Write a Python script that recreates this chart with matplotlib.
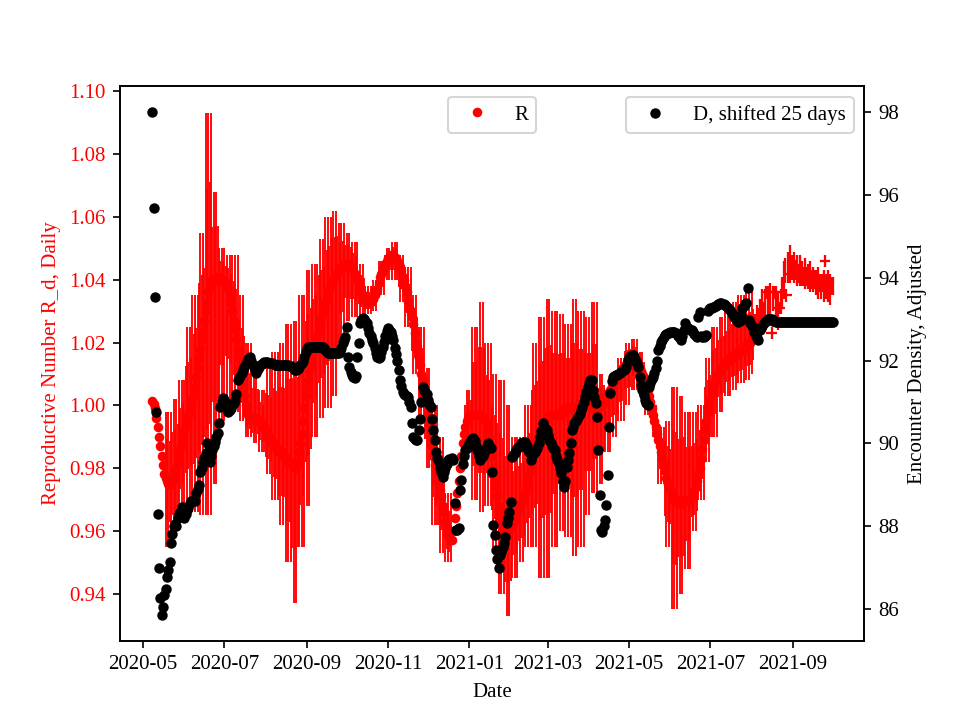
import datetime as dt
import numpy as np
import matplotlib
matplotlib.use("Agg")
import matplotlib.pyplot as plt
import matplotlib.dates as mdates

plt.rcParams['font.family'] = ['Liberation Serif', 'DejaVu Serif']

start_date = dt.date(2020, 5, 8)

# Daily reproductive number (centre values), 2020-05-08 .. 2021-08-02
R_main = [
    1.0015, 1.0005, 0.999, 0.996, 0.993, 0.990, 0.987, 0.984, 0.981, 0.978,
    0.977, 0.976, 0.975, 0.975, 0.975, 0.976, 0.977, 0.978, 0.980, 0.982,
    0.984, 0.986, 0.988, 0.990, 0.992, 0.994, 0.995, 0.997, 0.998, 1.000,
    1.002, 1.004, 1.006, 1.009, 1.012, 1.015, 1.018, 1.021, 1.024, 1.027,
    1.030, 1.033, 1.036, 1.038, 1.039, 1.040, 1.040, 1.040, 1.040, 1.041,
    1.041, 1.040, 1.040, 1.040, 1.039, 1.039, 1.038, 1.037, 1.035, 1.033,
    1.030, 1.027, 1.024, 1.021, 1.018, 1.015, 1.012, 1.009, 1.006, 1.003,
    1.000, 0.998, 0.997, 0.996, 0.996, 0.996, 0.996, 0.996, 0.995, 0.995,
    0.995, 0.995, 0.994, 0.993, 0.993, 0.992, 0.991, 0.990, 0.990, 0.989,
    0.988, 0.988, 0.987, 0.986, 0.986, 0.985, 0.985, 0.985, 0.984, 0.984,
    0.983, 0.983, 0.982, 0.982, 0.982, 0.981, 0.981, 0.980, 0.980, 0.982,
    0.985, 0.988, 0.991, 0.995, 0.999, 1.003, 1.006, 1.008, 1.011, 1.013,
    1.015, 1.017, 1.018, 1.020, 1.022, 1.024, 1.026, 1.028, 1.030, 1.031,
    1.033, 1.034, 1.036, 1.037, 1.039, 1.040, 1.040, 1.041, 1.042, 1.042,
    1.043, 1.043, 1.044, 1.044, 1.045, 1.045, 1.045, 1.045, 1.044, 1.044,
    1.044, 1.043, 1.042, 1.041, 1.040, 1.039, 1.037, 1.036, 1.035, 1.034,
    1.034, 1.033, 1.033, 1.033, 1.033, 1.034, 1.034, 1.035, 1.036, 1.037,
    1.039, 1.041, 1.042, 1.043, 1.044, 1.045, 1.046, 1.047, 1.047, 1.048,
    1.048, 1.048, 1.047, 1.047, 1.046, 1.045, 1.044, 1.043, 1.041, 1.040,
    1.038, 1.036, 1.033, 1.031, 1.030, 1.028, 1.026, 1.023, 1.020, 1.018,
    1.015, 1.013, 1.010, 1.008, 1.005, 1.003, 1.000, 0.997, 0.994, 0.990,
    0.987, 0.984, 0.981, 0.978, 0.976, 0.975, 0.973, 0.971, 0.968, 0.966,
    0.963, 0.961, 0.959, 0.958, 0.957, 0.957, 0.960, 0.964, 0.968, 0.972,
    0.976, 0.980, 0.984, 0.988, 0.991, 0.993, 0.995, 0.996, 0.997, 0.997,
    0.997, 0.997, 0.997, 0.997, 0.997, 0.997, 0.997, 0.997, 0.996, 0.996,
    0.995, 0.994, 0.992, 0.990, 0.987, 0.984, 0.980, 0.977, 0.974, 0.971,
    0.968, 0.966, 0.964, 0.962, 0.961, 0.960, 0.960, 0.960, 0.960, 0.961,
    0.962, 0.963, 0.964, 0.965, 0.966, 0.967, 0.968, 0.969, 0.970, 0.971,
    0.972, 0.974, 0.976, 0.978, 0.980, 0.982, 0.984, 0.986, 0.988, 0.989,
    0.990, 0.991, 0.992, 0.993, 0.994, 0.995, 0.996, 0.996, 0.997, 0.997,
    0.997, 0.997, 0.997, 0.997, 0.997, 0.997, 0.997, 0.998, 0.998, 0.998,
    0.999, 0.999, 0.999, 0.999, 0.999, 0.999, 0.999, 0.999, 0.999, 0.999,
    1.000, 1.000, 1.000, 1.000, 1.000, 1.000, 1.000, 1.000, 1.000, 1.000,
    0.999, 0.999, 0.999, 0.999, 0.999, 0.999, 1.000, 1.000, 1.000, 1.001,
    1.002, 1.003, 1.003, 1.004, 1.005, 1.006, 1.006, 1.007, 1.008, 1.008,
    1.009, 1.010, 1.011, 1.011, 1.012, 1.013, 1.013, 1.014, 1.015, 1.015,
    1.016, 1.016, 1.016, 1.015, 1.014, 1.013, 1.012, 1.011, 1.010, 1.009,
    1.008, 1.006, 1.005, 1.003, 1.001, 0.999, 0.997, 0.995, 0.993, 0.991,
    0.989, 0.987, 0.985, 0.983, 0.981, 0.979, 0.977, 0.975, 0.974, 0.973,
    0.972, 0.971, 0.970, 0.970, 0.970, 0.969, 0.969, 0.969, 0.969, 0.970,
    0.970, 0.970, 0.970, 0.970, 0.970, 0.971, 0.972, 0.973, 0.974, 0.976,
    0.978, 0.980, 0.983, 0.986, 0.989, 0.992, 0.995, 0.998, 1.000, 1.002,
    1.004, 1.006, 1.007, 1.008, 1.009, 1.010, 1.011, 1.012, 1.012, 1.013,
    1.013, 1.014, 1.014, 1.015, 1.015, 1.015, 1.016, 1.016, 1.016, 1.017,
    1.017, 1.017, 1.018, 1.018, 1.018, 1.019, 1.019, 1.019, 1.020, 1.020,
    1.021, 1.021,
]

# Upper / lower extent of the error bars, read in 5-day bins (nan = no bar)
nan = float('nan')
bar_top = [
    nan, nan, 0.998, 1.002, 1.008, 1.025, 1.035, 1.055, 1.093, 1.068,
    1.050, 1.048, 1.048, 1.035, 1.020, 1.012, 1.005, 1.012, 1.017, 1.020,
    1.026, 1.027, 1.035, 1.043, 1.045, 1.053, 1.060, 1.062, 1.058, 1.055,
    1.052, 1.045, 1.038, 1.040, 1.046, 1.050, 1.052, 1.048, 1.044, 1.035,
    1.025, 1.012, 1.000, 0.990, 0.972, nan, nan, 1.005, 1.025, 1.033,
    1.020, 1.010, 1.008, 1.000, 0.990, 0.990, 1.000, 1.020, 1.028, 1.034,
    1.030, 1.029, 1.026, 1.034, 1.030, 1.028, 1.033, 1.010, 1.005, 1.008,
    1.015, 1.020, 1.021, 1.017, 1.008, 1.000, 0.993, 0.995, 1.006, 1.003,
    0.998, 0.998, 1.000, 1.015, 1.025, 1.028, 1.030, 1.033, 1.035, 1.036,
    1.037,
]
bar_bottom = [
    nan, nan, 0.955, 0.958, 0.965, 0.968, 0.966, 0.965, 0.965, 0.975,
    0.995, 1.000, 0.998, 0.995, 0.990, 0.988, 0.985, 0.978, 0.970, 0.962,
    0.950, 0.937, 0.955, 0.968, 0.990, 0.996, 0.999, 1.003, 1.020, 1.027,
    1.028, 1.028, 1.029, 1.030, 1.035, 1.040, 1.040, 1.033, 1.025, 1.010,
    0.995, 0.980, 0.962, 0.953, 0.950, nan, nan, 0.985, 0.970, 0.966,
    0.968, 0.955, 0.940, 0.933, 0.945, 0.950, 0.955, 0.955, 0.945, 0.945,
    0.955, 0.960, 0.958, 0.952, 0.955, 0.965, 0.972, 0.975, 0.985, 0.990,
    0.995, 1.000, 1.005, 1.003, 0.997, 0.990, 0.975, 0.955, 0.935, 0.940,
    0.948, 0.960, 0.970, 0.982, 0.990, 0.998, 1.003, 1.005, 1.007, 1.008,
    1.010,
]
# long / shorter bars alternate from one day to the next
day_bar_share = [1.0, 0.6]

# Last part, 2021-08-03 .. 2021-10-01
R_tail = [
    1.025, 1.026, 1.027, 1.028, 1.029, 1.030, 1.031, 1.030, 1.032, 1.036,
    1.033, 1.032, 1.033, 1.023, 1.034, 1.036, 1.033, 1.032, 1.030, 1.031,
    1.033, 1.036, 1.040, 1.043, 1.035, 1.044, 1.042, 1.045, 1.044, 1.046,
    1.044, 1.043, 1.043, 1.042, 1.043, 1.042, 1.042, 1.041, 1.042, 1.041,
    1.041, 1.040, 1.041, 1.040, 1.040, 1.040, 1.039, 1.040, 1.039, 1.039,
    1.038, 1.039, 1.038, 1.046, 1.038, 1.038, 1.039, 1.037, 1.038, 1.038,
]
R_tail_yerr = [
    0.004, 0.003, 0.005, 0.003, 0.005, 0.003, 0.006, 0.003, 0.005, 0.002,
    0.005, 0.003, 0.006, 0.002, 0.004, 0.002, 0.005, 0.003, 0.006, 0.002,
    0.004, 0.005, 0.006, 0.004, 0.002, 0.005, 0.002, 0.006, 0.004, 0.002,
    0.005, 0.003, 0.005, 0.003, 0.005, 0.003, 0.004, 0.003, 0.005, 0.003,
    0.004, 0.003, 0.005, 0.003, 0.004, 0.003, 0.004, 0.003, 0.005, 0.003,
    0.004, 0.003, 0.005, 0.002, 0.004, 0.005, 0.002, 0.005, 0.003, 0.003,
]
R_tail_xerr = [
    0, 0, 0, 0, 0, 0, 0, 0, 0, 4,
    0, 0, 0, 4, 0, 4, 0, 0, 0, 4,
    0, 0, 0, 0, 4, 0, 4, 0, 0, 4,
    0, 0, 0, 0, 0, 0, 0, 0, 0, 0,
    0, 0, 0, 0, 0, 0, 0, 0, 0, 0,
    0, 0, 0, 4, 0, 0, 4, 0, 0, 0,
]

# Encounter density (shifted 25 days), 2020-05-08 .. 2021-10-01
D_vals = [
    98.00, 95.70, 93.55, 90.77, 88.30, 87.00, 86.27, 85.85, 86.05, 86.34,
    86.48, 86.77, 86.94, 87.13, 87.60, 87.80, 88.00, 88.05, 88.00, 88.20,
    88.30, 88.35, 88.46, 88.40, 88.20, 88.30, 88.40, 88.45, 88.55, 88.60,
    88.60, 88.62, 88.60, 88.80, 88.90, 89.00, 89.30, 89.40, 89.55, 89.65,
    89.77, 90.00, 89.80, 89.55, 89.70, 89.84, 89.95, 90.03, 90.15, 90.25,
    90.50, 90.88, 91.00, 91.10, 91.05, 90.95, 90.85, 90.76, 90.80, 90.85,
    90.92, 90.98, 91.05, 91.20, 91.53, 91.58, 91.62, 91.70, 91.78, 91.85,
    91.92, 91.97, 92.05, 92.09, 92.00, 91.92, 91.85, 91.78, 91.70, 91.80,
    91.85, 91.90, 91.92, 91.95, 91.97, 91.97, 91.97, 91.95, 91.94, 91.94,
    91.94, 91.92, 91.90, 91.90, 91.90, 91.90, 91.90, 91.90, 91.90, 91.90,
    91.90, 91.90, 91.90, 91.88, 91.86, 91.84, 91.80, 91.78, 91.77, 91.80,
    91.85, 91.90, 91.94, 92.00, 92.10, 92.20, 92.28, 92.33, 92.33, 92.33,
    92.33, 92.33, 92.33, 92.33, 92.33, 92.33, 92.33, 92.33, 92.33, 92.30,
    92.25, 92.20, 92.18, 92.18, 92.18, 92.18, 92.18, 92.18, 92.18, 92.18,
    92.18, 92.22, 92.30, 92.43, 92.50, 92.57, 92.81, 92.09, 91.85, 91.72,
    91.65, 91.60, 91.58, 91.62, 92.10, 92.42, 92.90, 92.98, 93.03, 93.00,
    92.95, 92.90, 92.80, 92.67, 92.60, 92.50, 92.43, 92.30, 92.18, 92.10,
    92.06, 92.10, 92.20, 92.33, 92.45, 92.60, 92.72, 92.79, 92.75, 92.70,
    92.60, 92.50, 92.30, 92.15, 92.00, 91.77, 91.53, 91.40, 91.24, 91.20,
    91.16, 91.14, 91.12, 91.00, 90.88, 90.49, 90.15, 90.10, 90.08, 90.08,
    90.32, 90.60, 91.00, 91.36, 91.30, 91.25, 91.20, 91.05, 90.95, 90.88,
    90.60, 90.32, 90.08, 89.80, 89.65, 89.55, 89.40, 89.30, 89.19, 89.30,
    89.40, 89.50, 89.60, 89.62, 89.63, 89.65, 89.60, 88.56, 87.90, 87.90,
    87.95, 88.87, 89.12, 89.50, 89.70, 89.84, 89.90, 89.95, 90.00, 90.08,
    90.10, 90.13, 90.05, 89.95, 89.84, 89.70, 89.60, 89.65, 89.70, 89.77,
    89.85, 89.95, 90.00, 89.95, 89.90, 89.30, 88.03, 87.79, 87.43, 87.20,
    87.00, 87.30, 87.38, 87.50, 87.60, 87.74, 88.08, 88.20, 88.34, 88.58,
    89.67, 89.72, 89.78, 89.84, 89.88, 89.91, 89.95, 90.00, 90.02, 90.03,
    90.03, 89.95, 89.85, 89.79, 89.60, 89.70, 89.75, 89.80, 89.84, 89.89,
    90.00, 90.15, 90.30, 90.49, 90.40, 90.37, 90.32, 90.20, 90.08, 90.00,
    89.95, 89.90, 89.84, 89.70, 89.60, 89.53, 89.40, 89.29, 89.10, 88.95,
    89.10, 89.43, 89.60, 89.77, 90.00, 90.32, 90.40, 90.49, 90.55, 90.60,
    90.64, 90.70, 90.80, 90.88, 91.00, 91.12, 91.25, 91.36, 91.45, 91.53,
    91.53, 91.30, 91.12, 90.98, 90.64, 89.84, 88.75, 87.91, 87.86, 88.00,
    88.15, 88.51, 89.24, 90.40, 91.22, 91.50, 91.60, 91.62, 91.65, 91.65,
    91.68, 91.70, 91.72, 91.75, 91.77, 91.80, 91.85, 92.00, 92.09, 92.12,
    92.14, 92.14, 92.10, 92.00, 91.92, 91.85, 91.60, 91.41, 91.30, 91.17,
    91.05, 90.98, 90.93, 91.36, 91.45, 91.55, 91.60, 91.70, 91.82, 92.00,
    92.26, 92.35, 92.45, 92.50, 92.58, 92.62, 92.65, 92.67, 92.68, 92.70,
    92.70, 92.70, 92.70, 92.68, 92.65, 92.60, 92.55, 92.50, 92.60, 92.75,
    92.90, 92.85, 92.80, 92.77, 92.75, 92.74, 92.70, 92.65, 92.60, 92.58,
    93.05, 93.17, 92.60, 92.57, 92.58, 92.60, 92.62, 93.20, 93.25, 93.27,
    93.28, 93.30, 93.30, 93.32, 93.35, 93.37, 93.39, 93.39, 93.38, 93.36,
    93.34, 93.32, 93.28, 93.25, 93.22, 93.15, 93.10, 93.05, 93.00, 92.96,
    92.93, 92.95, 93.10, 93.27, 93.33, 93.37, 93.39, 93.75, 92.98, 92.90,
    92.85, 92.81, 92.70, 92.60, 92.55, 92.50, 92.74, 92.80, 92.85, 92.90,
    92.93, 92.97, 93.00, 93.02, 93.02, 93.00, 92.97, 92.95, 92.93, 92.93,
    92.93, 92.93, 92.93, 92.93, 92.93, 92.93, 92.93, 92.93, 92.93, 92.93,
    92.93, 92.93, 92.93, 92.93, 92.93, 92.93, 92.93, 92.93, 92.93, 92.93,
    92.93, 92.93, 92.93, 92.93, 92.93, 92.93, 92.93, 92.93, 92.93, 92.93,
    92.93, 92.93, 92.93, 92.93, 92.93, 92.93, 92.93, 92.93, 92.93, 92.93,
    92.93, 92.93,
]

x_ticks_months = [1, 3, 5, 7, 9, 11]
left_ticks = [0.94, 0.96, 0.98, 1.00, 1.02, 1.04, 1.06, 1.08, 1.10]
right_ticks = [86, 88, 90, 92, 94, 96, 98]

# ---- build arrays ----
x0 = mdates.date2num(start_date)
n_main = len(R_main)
x_main = x0 + np.arange(n_main)
x_tail = x0 + n_main + np.arange(len(R_tail))
x_D = x0 + np.arange(len(D_vals))
R = np.array(R_main)
top = np.repeat(np.array(bar_top, float), 5)[:n_main]
bot = np.repeat(np.array(bar_bottom, float), 5)[:n_main]
share = np.array(day_bar_share)[np.arange(n_main) % 2]
err_hi = np.nan_to_num(np.clip(top - R, 0, None)) * share
err_lo = np.nan_to_num(np.clip(R - bot, 0, None)) * share

fig, ax1 = plt.subplots(figsize=(6.4, 4.8), dpi=150)
ax1.errorbar(x_main, R, yerr=[err_lo, err_hi], fmt='none', ecolor='red',
             elinewidth=0.9, zorder=2)
ax1.plot(x_main, R, 'o', color='red', ms=3.6, label='R', zorder=3)
ax1.errorbar(x_tail, R_tail, yerr=R_tail_yerr, xerr=R_tail_xerr, fmt='none',
             ecolor='red', elinewidth=1.1, zorder=2)

ax1.set_ylim(0.925, 1.1016)
ax1.set_yticks(left_ticks)
ax1.yaxis.set_major_formatter(matplotlib.ticker.FormatStrFormatter('%.2f'))
ax1.tick_params(axis='y', labelcolor='red')
ax1.set_ylabel('Reproductive Number R_d, Daily', color='red')
ax1.set_xlabel('Date')
base = mdates.date2num(dt.date(2020, 5, 1))
ax1.set_xlim(base - 17.3, base + 541.4)
ax1.xaxis.set_major_locator(mdates.MonthLocator(bymonth=x_ticks_months))
ax1.xaxis.set_major_formatter(mdates.DateFormatter('%Y-%m'))

ax2 = ax1.twinx()
ax2.plot(x_D, D_vals, 'o', color='black', ms=4, label='D, shifted 25 days')
ax2.set_ylim(85.23, 98.63)
ax2.set_yticks(right_ticks)
ax2.set_ylabel('Encounter Density, Adjusted')

ax1.legend(loc='upper center')
ax2.legend(loc='upper right')

fig.savefig('out.png', dpi=150)
